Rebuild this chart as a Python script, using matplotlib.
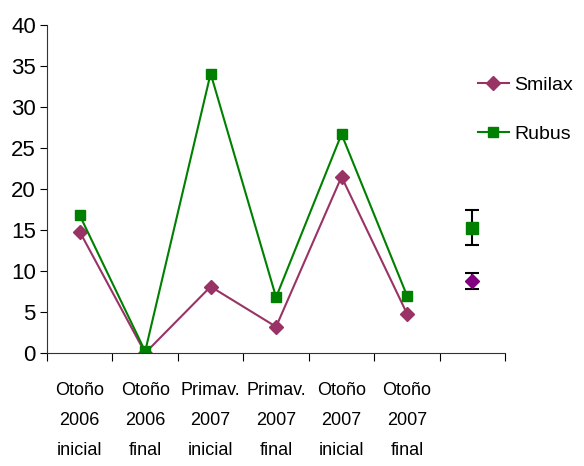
import matplotlib
matplotlib.use("Agg")
import matplotlib.pyplot as plt

plt.rcParams['font.family'] = ['Liberation Sans', 'DejaVu Sans']

categorias = ["Otoño\n2006\ninicial", "Otoño\n2006\nfinal", "Primav.\n2007\ninicial",
              "Primav.\n2007\nfinal", "Otoño\n2007\ninicial", "Otoño\n2007\nfinal"]
smilax = [14.8, 0.0, 8.1, 3.2, 21.5, 4.8]
rubus = [16.8, 0.2, 34.1, 6.8, 26.7, 7.0]

# medias con barras de error (columna extra)
smilax_media, smilax_err = 8.8, 1.0
rubus_media, rubus_err = 15.3, 2.1

x = list(range(len(categorias)))
x_media = len(categorias)

fig = plt.figure(figsize=(5.84, 4.66), dpi=100)
ax = fig.add_axes([0.0805, 0.2425, 0.7845, 0.7035])

ax.plot(x, smilax, color='#993366', marker='D', markersize=7, lw=1.5, label='Smilax')
ax.plot(x, rubus, color='#008000', marker='s', markersize=7, lw=1.5, label='Rubus')

ax.errorbar(x_media, rubus_media, yerr=rubus_err, fmt='s', color='#008000', ms=8,
            ecolor='black', elinewidth=1.5, capsize=5, capthick=1.5)
ax.errorbar(x_media, smilax_media, yerr=smilax_err, fmt='D', color='#800080', ms=7,
            ecolor='black', elinewidth=1.5, capsize=5, capthick=1.5)

ax.set_xlim(-0.5, len(categorias) + 0.5)
ax.set_ylim(0, 40)
ax.set_yticks(range(0, 41, 5))
ax.tick_params(axis='y', labelsize=16, length=5, direction='out', pad=3)

ax.set_xticks([i - 0.5 for i in range(len(categorias) + 2)])
ax.set_xticklabels([])
ax.tick_params(axis='x', length=6, direction='out')
for i, c in enumerate(categorias):
    ax.text(i, -3.5, c, ha='center', va='top', fontsize=13, linespacing=2.0)

for s in ['top', 'right']:
    ax.spines[s].set_visible(False)
ax.spines['bottom'].set_color('#333333')
ax.spines['left'].set_color('#333333')

ax.legend(loc='upper left', bbox_to_anchor=(0.94, 0.845), frameon=False, fontsize=14,
          handlelength=1.6, handletextpad=0.3, labelspacing=1.65,
          borderpad=0, borderaxespad=0)

fig.savefig('out.png', dpi=100)
